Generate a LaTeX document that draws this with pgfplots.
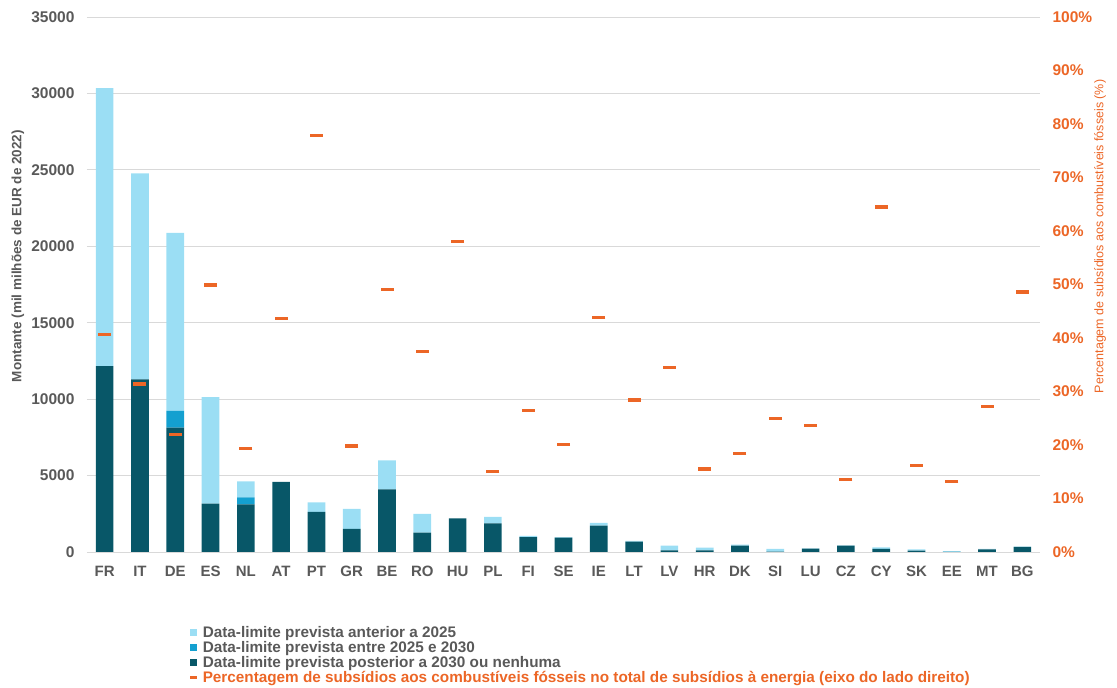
\documentclass[border=0pt]{standalone}
\usepackage{fontspec}
\setmainfont{Liberation Sans}
\usepackage{pgfplots}
\pgfplotsset{compat=1.18}
\usepackage{pgfplotstable}
\definecolor{lightb}{RGB}{155,222,244}
\definecolor{midb}{RGB}{20,160,208}
\definecolor{darkb}{RGB}{8,87,104}
\definecolor{orangec}{RGB}{236,102,38}
\definecolor{txtgray}{RGB}{89,89,89}
\definecolor{gridgray}{RGB}{217,217,217}

\pgfplotstableread{
x cat dark mid light pct
0 FR 12160 0 18190 40.7
1 IT 11300 0 13470 31.4
2 DE 8130 1110 11640 22.0
3 ES 3160 0 6980 49.9
4 NL 3120 460 1040 19.4
5 AT 4580 0 0 43.7
6 PT 2620 0 630 77.9
7 GR 1510 0 1310 19.8
8 BE 4100 0 1900 49.0
9 RO 1270 0 1220 37.5
10 HU 2200 0 0 58.1
11 PL 1880 0 410 15.1
12 FI 980 0 70 26.5
13 SE 940 0 40 20.1
14 IE 1720 0 180 43.9
15 LT 680 0 40 28.4
16 LV 110 0 300 34.5
17 HR 110 0 170 15.5
18 DK 420 0 60 18.4
19 SI 30 0 170 25.0
20 LU 220 0 20 23.7
21 CZ 410 0 20 13.6
22 CY 200 0 100 64.5
23 SK 90 0 80 16.2
24 EE 10 0 50 13.2
25 MT 170 0 30 27.2
26 BG 330 0 20 48.6
}\data

\begin{document}
\begin{tikzpicture}
\begin{axis}[name=ax, scale only axis, width=953pt, height=535pt,
  xmin=-0.5, xmax=26.5, ymin=0, ymax=35000,
  ybar stacked, bar width=0.5,
  xtick={0,...,26},
  xticklabels from table={\data}{cat},
  ytick={0,5000,...,35000},
  ymajorgrids, major grid style={gridgray, line width=0.8pt},
  axis x line*=bottom, axis y line*=left,
  y axis line style={draw=none},
  x axis line style={gridgray, line width=0.8pt, -},
  major tick length=0,
  /pgf/number format/assume math mode=true,
  scaled y ticks=false,
  yticklabel style={/pgf/number format/1000 sep={}, font=\fontsize{15.5}{15.5}\selectfont\bfseries, text=txtgray, xshift=-9pt},
  xticklabel style={font=\fontsize{15}{15}\selectfont\bfseries, text=txtgray, text height=11pt, text depth=0pt, yshift=-10pt},
  ylabel={Montante (mil milhões de EUR de 2022)},
  ylabel style={font=\fontsize{13.5}{13.5}\selectfont\bfseries, text=txtgray, at={(axis description cs:-0.0724,0.553)}, anchor=center},
]
\addplot[fill=darkb, draw=none] table[x=x,y=dark]{\data};
\addplot[fill=midb, draw=none] table[x=x,y=mid]{\data};
\addplot[fill=lightb, draw=none] table[x=x,y=light]{\data};
\end{axis}
\begin{axis}[scale only axis, width=953pt, height=535pt,
  xmin=-0.5, xmax=26.5, ymin=0, ymax=100,
  axis y line*=right, axis x line=none,
  y axis line style={draw=none},
  major tick length=0,
  ytick={0,10,...,100},
  /pgf/number format/assume math mode=true,
  yticklabel={\pgfmathprintnumber{\tick}\%},
  yticklabel style={font=\fontsize{15.5}{15.5}\selectfont\bfseries, text=orangec, xshift=9pt},
  ylabel={Percentagem de subsídios aos combustíveis fósseis (\%)},
  ylabel style={font=\fontsize{12.5}{12.5}\selectfont, text=orangec, at={(axis description cs:1.063,0.59)}, anchor=center},
  legend cell align=left,
  legend style={at={(axis description cs:0.105,-0.133)}, anchor=north west, draw=none, fill=none,
    font=\fontsize{15.3}{15.3}\selectfont\bfseries, text=txtgray, row sep=1.4pt, nodes={inner sep=0.6pt},
    /tikz/every odd column/.append style={column sep=5.5pt}},
]
\addlegendimage{legend image code/.code={\fill[lightb] (0pt,-3pt) rectangle (5.5pt,3.5pt);}}
\addlegendimage{legend image code/.code={\fill[midb] (0pt,-3pt) rectangle (5.5pt,3.5pt);}}
\addlegendimage{legend image code/.code={\fill[darkb] (0pt,-3pt) rectangle (5.5pt,3.5pt);}}
\addlegendimage{legend image code/.code={\fill[orangec] (0pt,-0.5pt) rectangle (6pt,1.5pt);}}
\addplot[only marks, mark=-, mark size=6.5pt, mark options={line width=3.2pt, orangec}, forget plot] table[x=x,y=pct]{\data};
\legend{Data-limite prevista anterior a 2025, Data-limite prevista entre 2025 e 2030, Data-limite prevista posterior a 2030 ou nenhuma, \textcolor{orangec}{Percentagem de subsídios aos combustíveis fósseis no total de subsídios à energia (eixo do lado direito)}}
\end{axis}
\pgfresetboundingbox
\path[use as bounding box] ([xshift=-87pt,yshift=-135pt]ax.south west) rectangle ([xshift=77pt,yshift=17pt]ax.north east);
\end{tikzpicture}
\end{document}
